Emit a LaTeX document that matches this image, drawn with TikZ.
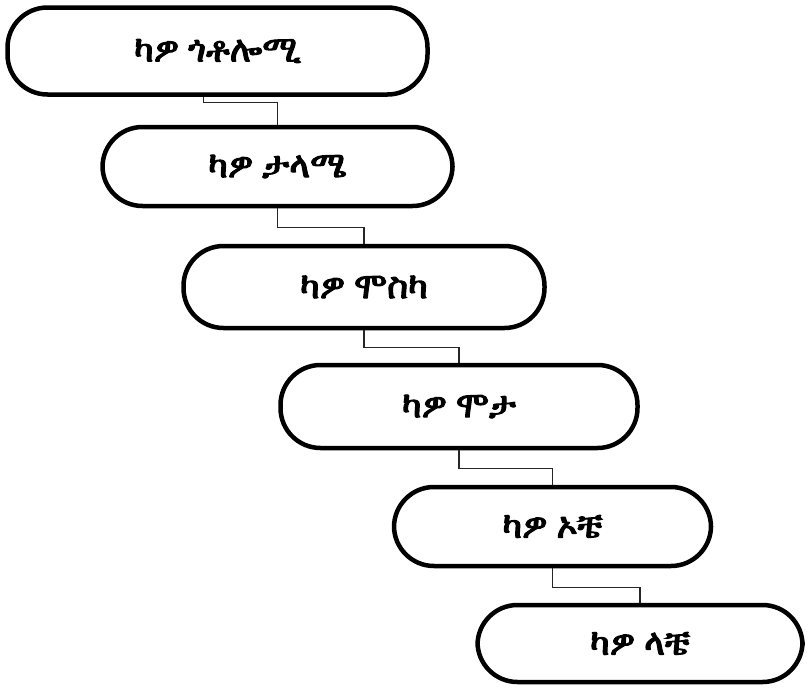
\documentclass[tikz,border=0pt]{standalone}
\usepackage{fontspec}
\newfontfamily\geez[FakeBold=3]{FreeSerif}
\usetikzlibrary{positioning}
\tikzset{>=stealth}
\tikzset{level/.style={draw, line width=4.5pt, rounded corners=40pt, inner sep=0pt,
    font=\geez\fontsize{36}{40}\selectfont},
  link/.style={draw, black!85, line width=1.2pt}}

\begin{document}
\begin{tikzpicture}[x=1pt,y=-1pt]
        \useasboundingbox (0,0) rectangle (808,688);
        \node[level, minimum width=420pt, minimum height=87pt] (kawo1) at (217.5,51) {ካዎ ጎቶሎሚ};
        \node[level, minimum width=350pt, minimum height=79pt] (kawo2) at (277.5,166.5) {ካዎ ታላሜ};
        \node[level, minimum width=361pt, minimum height=82pt] (kawo3) at (364,287) {ካዎ ሞስካ};
        \node[level, minimum width=357pt, minimum height=83pt] (kawo4) at (459,406.5) {ካዎ ሞታ};
        \node[level, minimum width=317pt, minimum height=79pt] (kawo5) at (552.5,526.5) {ካዎ ኦቼ};
        \node[level, minimum width=325pt, minimum height=77pt] (kawo6) at (640,643.5) {ካዎ ላቼ};
        \draw[link] (kawo1.south) ++(-14,0) -- ++(0,6) -| (kawo2.north);
        \draw[link] (kawo2.south) -- ++(0,19) -| (kawo3.north);
        \draw[link] (kawo3.south) -- ++(0,17) -| (kawo4.north);
        \draw[link] (kawo4.south) -- ++(0,18) -| (kawo5.north);
        \draw[link] (kawo5.south) -- ++(0,19) -| (kawo6.north);
      \end{tikzpicture}
\end{document}
